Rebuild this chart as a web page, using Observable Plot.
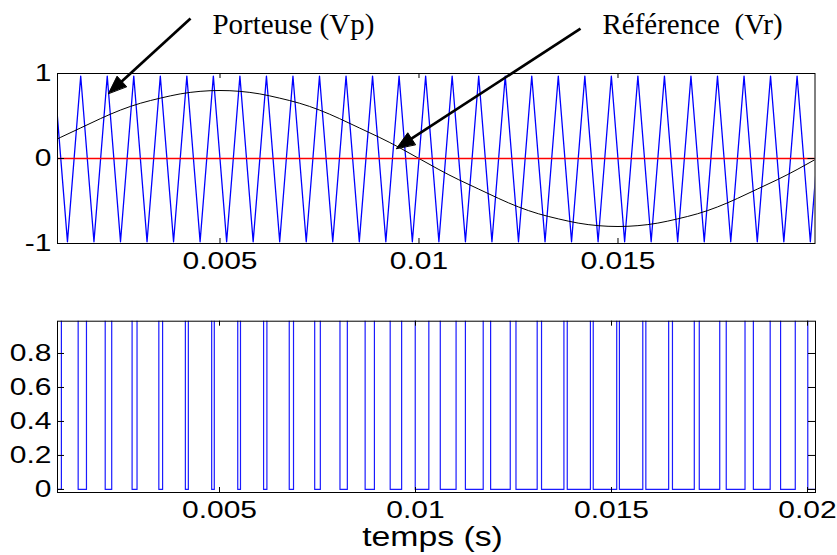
<!DOCTYPE html>
<html><head><meta charset="utf-8">
<script src="https://cdn.jsdelivr.net/npm/d3@7"></script>
<script src="https://cdn.jsdelivr.net/npm/@observablehq/plot@0.6"></script>
<style>
html,body{margin:0;padding:0;background:#fff;}
#chart svg{display:block;}
svg text{white-space:pre;}
</style></head><body><div id="chart"></div>
<script>
// ---------- data (time in ms) ----------
const topTicksMs = [5, 10, 15];
const botTicksMs = [5, 10, 15, 20];
const topYTicks = [-1, 0, 1];
const botYTicks = [0, 0.2, 0.4, 0.6, 0.8];

// carrier (triangle) vertices
const carrierPeakMs = [0.833, 1.5, 2.167, 2.833, 3.5, 4.167, 4.833, 5.5, 6.167, 6.833, 7.5, 8.167, 8.833, 9.5, 10.167, 10.833, 11.5, 12.167, 12.833, 13.5, 14.167, 14.833, 15.5, 16.167, 16.833, 17.5, 18.167, 18.833, 19.5];
const carrierTroughMs = [1.167, 1.833, 2.5, 3.167, 3.833, 4.5, 5.167, 5.833, 6.5, 7.167, 7.833, 8.5, 9.167, 9.833, 10.5, 11.167, 11.833, 12.5, 13.167, 13.833, 14.5, 15.167, 15.833, 16.5, 17.167, 17.833, 18.5, 19.167, 19.833];
const carrierPeakValue = 0.97;
const carrierTroughValue = -0.98;
const carrierEndMs = 20.0, carrierEndValue = 0;

// reference (sine) samples
const refTimeMs = [0,0.5,1,1.5,2,2.5,3,3.5,4,4.5,5,5.5,6,6.5,7,7.5,8,8.5,9,9.5,10,10.5,11,11.5,12,12.5,13,13.5,14,14.5,15,15.5,16,16.5,17,17.5,18,18.5,19,19.5,20,20.5];
const refValue = [0,0.13,0.25,0.36,0.47,0.57,0.65,0.71,0.76,0.79,0.80,0.79,0.76,0.71,0.65,0.57,0.47,0.36,0.25,0.13,0,-0.13,-0.25,-0.36,-0.47,-0.57,-0.65,-0.71,-0.76,-0.79,-0.80,-0.79,-0.76,-0.71,-0.65,-0.57,-0.47,-0.36,-0.25,-0.13,0,0.13];

// PWM switching instants
const pwmRiseMs = [0.966, 1.606, 2.250, 2.896, 3.548, 4.205, 4.867, 5.535, 6.209, 6.888, 7.572, 8.261, 8.952, 9.646, 10.340, 11.035, 11.727, 12.417, 13.104, 13.786, 14.462, 15.133, 15.798, 16.458, 17.112, 17.761, 18.406, 19.048, 19.688];
const pwmFallMs = [1.394, 2.084, 2.770, 3.452, 4.129, 4.800, 5.465, 6.124, 6.779, 7.428, 8.073, 8.715, 9.354, 9.993, 10.632, 11.273, 11.916, 12.563, 13.215, 13.871, 14.534, 15.202, 15.876, 16.555, 17.239, 17.927, 18.619, 19.313, 20.007];
const pwmStartMs = 0.8, pwmEndMs = 20.3;

// annotations
const labelText = ["Porteuse (Vp)", "Référence  (Vr)"];
const labelMs = [4.81, 14.61];
const labelV = [1.465, 1.465];
const arrowTailMs = [4.259, 14.058];
const arrowTailV = [1.647, 1.529];
const arrowTipMs = [2.198, 9.435];
const arrowTipV = [0.765, 0.118];

// ---------- layout ----------
const W = 837;
const topDom = [0.917, 19.95], topH = 290, topML = 57, topMR = 22.5, topMT = 73, topMB = 47;
const botDom = [0.867, 20.204], botYDom = [-0.018, 0.99], botH = 265, botML = 57, botMR = 22, botMT = 30.7, botMB = 63;
const sansFont = "'Liberation Sans', Arial, Helvetica, sans-serif";
const fmtX = d => String(d / 1000);
const fmtY = d => String(d);

// build tables
const carrier = carrierPeakMs.map(t => ({t, v: carrierPeakValue}))
  .concat(carrierTroughMs.map(t => ({t, v: carrierTroughValue})))
  .concat([{t: carrierEndMs, v: carrierEndValue}])
  .sort((a, b) => a.t - b.t);
const ref = refTimeMs.map((t, i) => ({t, v: refValue[i]}));
const pwm = [{t: pwmStartMs, v: 0}]
  .concat(pwmRiseMs.map(t => ({t, v: 1})))
  .concat(pwmFallMs.map(t => ({t, v: 0})))
  .sort((a, b) => a.t - b.t)
  .concat([{t: pwmEndMs, v: 0}]);
const labels = labelText.map((s, i) => ({s, t: labelMs[i], v: labelV[i]}));

// arrow geometry (head computed in pixel space of top plot)
const sxT = (W - topML - topMR) / (topDom[1] - topDom[0]);
const syT = (topH - topMT - topMB) / 2;
const headL = 18, headW = 14;
const shafts = [], heads = [];
arrowTipMs.forEach((tt, i) => {
  const px1 = arrowTailMs[i] * sxT, py1 = -arrowTailV[i] * syT;
  const px2 = tt * sxT, py2 = -arrowTipV[i] * syT;
  const len = Math.hypot(px2 - px1, py2 - py1);
  const ux = (px2 - px1) / len, uy = (py2 - py1) / len;
  const bx = px2 - headL * ux, by = py2 - headL * uy;
  const nx = -uy, ny = ux;
  const toD = (x, y) => ({t: x / sxT, v: -y / syT, z: i});
  shafts.push({t1: arrowTailMs[i], v1: arrowTailV[i], t2: (bx + 2 * ux) / sxT, v2: -(by + 2 * uy) / syT});
  heads.push(toD(px2, py2), toD(bx + nx * headW / 2, by + ny * headW / 2), toD(bx - nx * headW / 2, by - ny * headW / 2));
});

// tick lengths in data units
const tkTopY = 5 * 2 / (topH - topMT - topMB);
const tkTopX = 7 * (topDom[1] - topDom[0]) / (W - topML - topMR);
const tkBotY = 5 * (botYDom[1] - botYDom[0]) / (botH - botMT - botMB);
const tkBotX = 7 * (botDom[1] - botDom[0]) / (W - botML - botMR);

const topPlot = Plot.plot({
  width: W, height: topH,
  marginTop: topMT, marginBottom: topMB, marginLeft: topML, marginRight: topMR,
  style: {fontFamily: sansFont, fontSize: "24px", color: "black", background: "white", overflow: "visible"},
  x: {domain: topDom, ticks: topTicksMs, tickSize: 0, tickPadding: 8, tickFormat: fmtX, label: null},
  y: {domain: [-1, 1], ticks: topYTicks, tickSize: 0, tickPadding: 6, tickFormat: fmtY, label: null},
  marks: [
    Plot.line(carrier, {x: "t", y: "v", stroke: "#0000ff", strokeWidth: 1.3, clip: true}),
    Plot.line(ref, {x: "t", y: "v", stroke: "black", strokeWidth: 1, curve: "natural", clip: true}),
    Plot.ruleY([0], {stroke: "red", strokeWidth: 1.3}),
    Plot.frame({stroke: "black", strokeWidth: 1}),
    Plot.ruleX(topTicksMs, {y1: -1, y2: -1 + tkTopY, stroke: "black"}),
    Plot.ruleX(topTicksMs, {y1: 1, y2: 1 - tkTopY, stroke: "black"}),
    Plot.ruleY(topYTicks, {x1: topDom[0], x2: topDom[0] + tkTopX, stroke: "black"}),
    Plot.ruleY(topYTicks, {x1: topDom[1], x2: topDom[1] - tkTopX, stroke: "black"}),
    Plot.link(shafts, {x1: "t1", y1: "v1", x2: "t2", y2: "v2", stroke: "black", strokeWidth: 2.7}),
    Plot.line(heads, {x: "t", y: "v", z: "z", fill: "black", stroke: "black", strokeWidth: 1, curve: "linear-closed"}),
    Plot.text(labels, {x: "t", y: "v", text: "s", textAnchor: "start", lineAnchor: "bottom", fontFamily: "'Liberation Serif', 'Times New Roman', serif", fontSize: 29, fill: "black"})
  ]
});

const botPlot = Plot.plot({
  width: W, height: botH,
  marginTop: botMT, marginBottom: botMB, marginLeft: botML, marginRight: botMR,
  style: {fontFamily: sansFont, fontSize: "24px", color: "black", background: "white", overflow: "visible"},
  x: {domain: botDom, ticks: botTicksMs, tickSize: 0, tickPadding: 8, tickFormat: fmtX, label: null},
  y: {domain: botYDom, ticks: botYTicks, tickSize: 0, tickPadding: 6, tickFormat: fmtY, label: null},
  marks: [
    Plot.line(pwm, {x: "t", y: "v", stroke: "#1a1aff", strokeWidth: 1.2, curve: "step-after", clip: true}),
    Plot.frame({stroke: "black", strokeWidth: 1}),
    Plot.ruleX(botTicksMs, {y1: botYDom[0], y2: botYDom[0] + tkBotY, stroke: "black"}),
    Plot.ruleX(botTicksMs, {y1: botYDom[1], y2: botYDom[1] - tkBotY, stroke: "black"}),
    Plot.ruleY(botYTicks, {x1: botDom[0], x2: botDom[0] + tkBotX, stroke: "black"}),
    Plot.ruleY(botYTicks, {x1: botDom[1], x2: botDom[1] - tkBotX, stroke: "black"}),
    Plot.text(["temps (s)"], {frameAnchor: "bottom", dx: -4, dy: 53, lineAnchor: "bottom", fontSize: 27, fill: "black"})
  ]
});

function stretch(svg, k) {
  svg.querySelectorAll("text").forEach(t => {
    if (t.closest('[font-family*="Serif"]')) return;
    const tr = t.getAttribute("transform");
    if (tr) t.setAttribute("transform", tr + ` scale(${k},1)`);
    else {
      const x = t.getAttribute("x") || 0, y = t.getAttribute("y") || 0;
      t.removeAttribute("x"); t.removeAttribute("y");
      t.setAttribute("transform", `translate(${x},${y}) scale(${k},1)`);
    }
  });
}
stretch(topPlot, 1.25);
stretch(botPlot, 1.25);
const c = document.getElementById("chart");
c.appendChild(topPlot);
c.appendChild(botPlot);
</script></body></html>
